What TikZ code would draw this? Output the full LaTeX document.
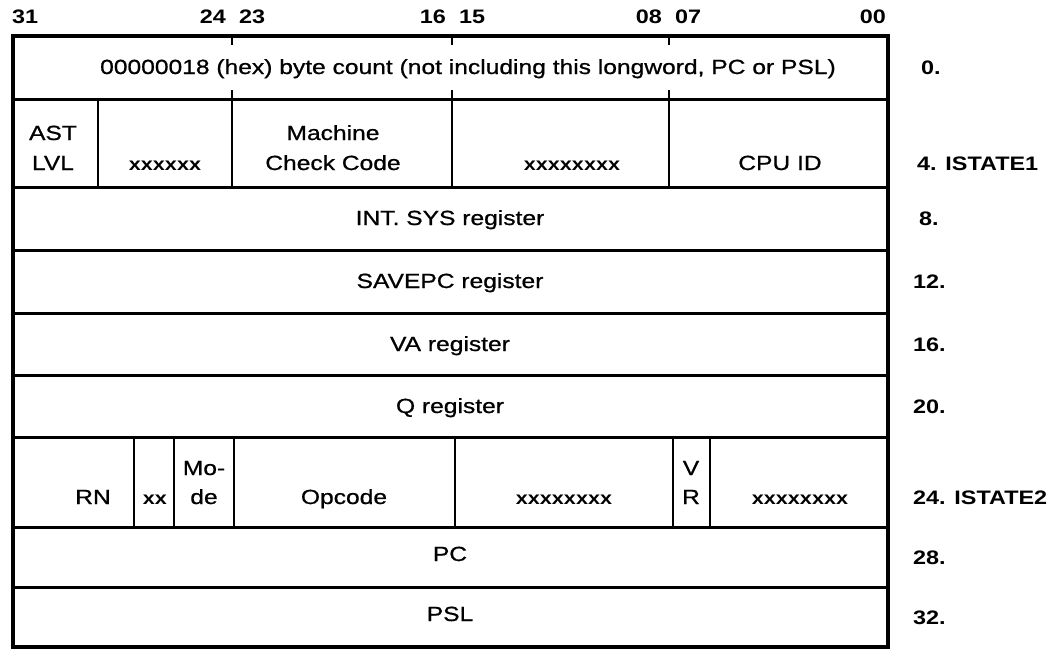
\documentclass[tikz,border=0pt]{standalone}
\usepackage{fontspec}
\setmainfont{Liberation Sans}[FakeStretch=1.2, UprightFeatures={FakeBold=0.8}]
\begin{document}
\begin{tikzpicture}[x=1pt,y=-1pt,
  lbl/.style={font=\fontsize{20.5}{22}\selectfont, inner sep=0pt, anchor=base},
  xs/.style={font=\fontsize{18}{20}\selectfont\bfseries, inner sep=0pt, anchor=base},
  hdr/.style={font=\fontsize{19.5}{20}\selectfont\bfseries, inner sep=0pt},
  off/.style={font=\fontsize{19.5}{20}\selectfont\bfseries, inner sep=0pt, anchor=base west},
  frame/.style={line width=3.5pt, line cap=rect, line join=miter},
  hline/.style={line width=3pt},
  vline/.style={line width=2pt},
  tick/.style={line width=1.5pt}]
\useasboundingbox (0,0) rectangle (1051,649);
% frame corners
\coordinate (TL) at (13,36);
\coordinate (BR) at (888,647);
\draw[frame] (TL) rectangle (BR);
% row separators
\foreach \y in {99,187,250,313,375,437,527,587}
  \draw[hline] (13,\y) -- (888,\y);
% byte ticks in first row
\foreach \x in {232,452,669}{
  \draw[tick] (\x,36) -- (\x,45);
  \draw[tick] (\x,90) -- (\x,99);
}
% row 2 dividers
\foreach \x in {98,232,452,669}
  \draw[vline] (\x,99) -- (\x,187);
% row 7 dividers
\foreach \x in {134,174,234,455,673,710}
  \draw[vline] (\x,437) -- (\x,527);
% header bit numbers
\node[hdr, anchor=west] (b31) at (12,17) {31};
\node[hdr, anchor=east] (b24) at (226,17) {24};
\node[hdr, anchor=west] (b23) at (239,17) {23};
\node[hdr, anchor=east] (b16) at (446,17) {16};
\node[hdr, anchor=west] (b15) at (459,17) {15};
\node[hdr, anchor=east] (b08) at (662,17) {08};
\node[hdr, anchor=west] (b07) at (675,17) {07};
\node[hdr, anchor=east] (b00) at (886,17) {00};
% row 1
\node[lbl] (count) at (468,74) {00000018 (hex) byte count (not including this longword, PC or PSL)};
% row 2
\node[lbl] (ast) at (53,140) {AST};
\node[lbl] (lvl) at (53,170) {LVL};
\node[xs] (x6) at (165,170) {xxxxxx};
\node[lbl] (mach) at (333,140) {Machine};
\node[lbl] (mcc) at (333,170) {Check Code};
\node[xs] (x8a) at (572,170) {xxxxxxxx};
\node[lbl] (cpu) at (780,170) {CPU ID};
% rows 3-6
\node[lbl] (intsys) at (450,225) {INT. SYS register};
\node[lbl] (savepc) at (450,288) {SAVEPC register};
\node[lbl] (va) at (450,351) {VA register};
\node[lbl] (q) at (450,413) {Q register};
% row 7
\node[lbl] (rn) at (93,504) {RN};
\node[xs] (xx) at (155,504) {xx};
\node[lbl] (mo) at (204,475) {Mo-};
\node[lbl] (de) at (204,504) {de};
\node[lbl] (opc) at (344,504) {Opcode};
\node[xs] (x8b) at (564,504) {xxxxxxxx};
\node[lbl] (v) at (691,475) {V};
\node[lbl] (r) at (691,504) {R};
\node[xs] (x8c) at (800,504) {xxxxxxxx};
% rows 8-9
\node[lbl] (pc) at (450,561) {PC};
\node[lbl] (psl) at (450,621) {PSL};
% offsets
\node[off] (o0) at (921,74) {0.};
\node[off] (o4) at (917,170) {4. ISTATE1};
\node[off] (o8) at (919,225) {8.};
\node[off] (o12) at (913,288) {12.};
\node[off] (o16) at (913,351) {16.};
\node[off] (o20) at (913,413) {20.};
\node[off] (o24) at (913,504) {24. ISTATE2};
\node[off] (o28) at (913,564) {28.};
\node[off] (o32) at (913,624) {32.};
\end{tikzpicture}
\end{document}
